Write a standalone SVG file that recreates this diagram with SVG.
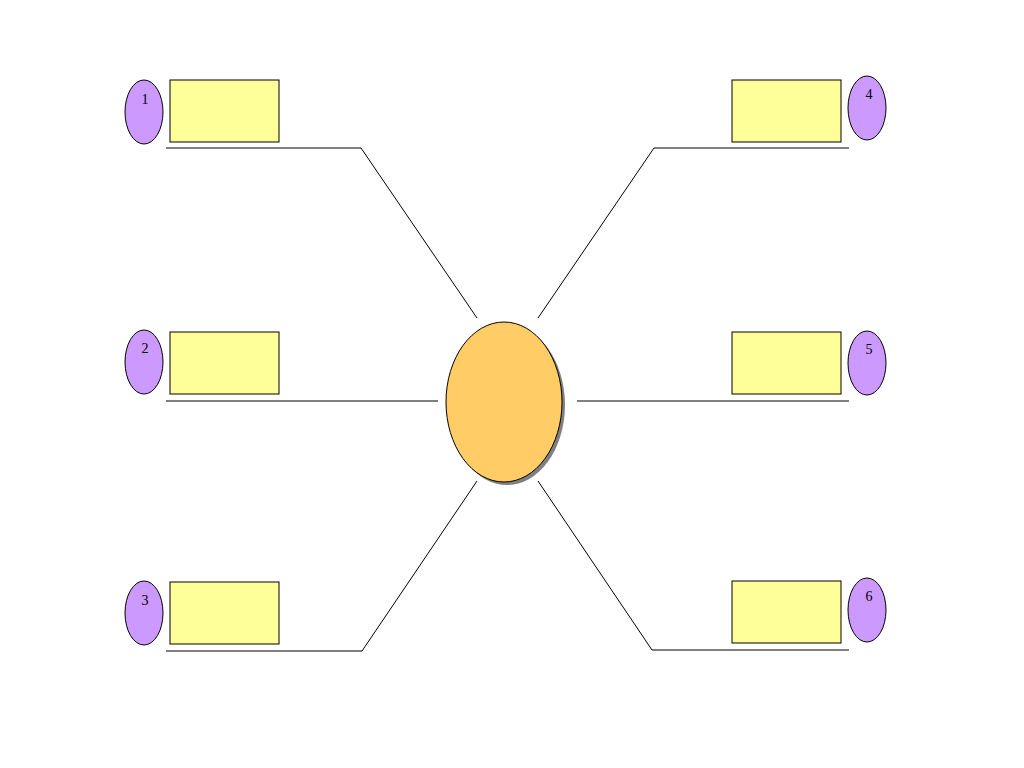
<svg xmlns="http://www.w3.org/2000/svg" width="1024" height="768" viewBox="0 0 1024 768">
<style>
.box{fill:#ffff99;stroke:#000;stroke-width:1}
.num{fill:#cc99ff;stroke:#000;stroke-width:1}
.t{font-family:"Liberation Serif",serif;font-size:14px;fill:#000;text-anchor:middle}
.ln{fill:none;stroke:#000;stroke-width:1}
</style>
<rect width="1024" height="768" fill="#fff"/>
<g id="connectors">
<polyline class="ln" points="166,148 361,148 477,318"/>
<polyline class="ln" points="166,401 438,401"/>
<polyline class="ln" points="166,651 362,651 477,481"/>
<polyline class="ln" points="849,148 654,148 538,318"/>
<polyline class="ln" points="849,401 577,401"/>
<polyline class="ln" points="849,650 652,650 538,481"/>
</g>
<g id="center">
<ellipse cx="507" cy="405" rx="58" ry="80" fill="#808080"/>
<ellipse cx="504" cy="402" rx="58" ry="80" fill="#ffcc66" stroke="#000"/>
</g>
<g id="n1"><rect class="box" x="170" y="80" width="109" height="62"/><ellipse class="num" cx="144" cy="112" rx="19" ry="32"/><text class="t" x="145" y="104">1</text></g>
<g id="n2"><rect class="box" x="170" y="332" width="109" height="62"/><ellipse class="num" cx="144" cy="362" rx="19" ry="32"/><text class="t" x="145" y="353">2</text></g>
<g id="n3"><rect class="box" x="170" y="582" width="109" height="62"/><ellipse class="num" cx="144" cy="613" rx="19" ry="32"/><text class="t" x="145" y="605">3</text></g>
<g id="n4"><rect class="box" x="732" y="80" width="109" height="62"/><ellipse class="num" cx="867" cy="108" rx="19" ry="32"/><text class="t" x="869" y="99">4</text></g>
<g id="n5"><rect class="box" x="732" y="332" width="109" height="62"/><ellipse class="num" cx="867" cy="363" rx="19" ry="32"/><text class="t" x="869" y="354">5</text></g>
<g id="n6"><rect class="box" x="732" y="581" width="109" height="62"/><ellipse class="num" cx="867" cy="610" rx="19" ry="32"/><text class="t" x="869" y="601">6</text></g>
</svg>
